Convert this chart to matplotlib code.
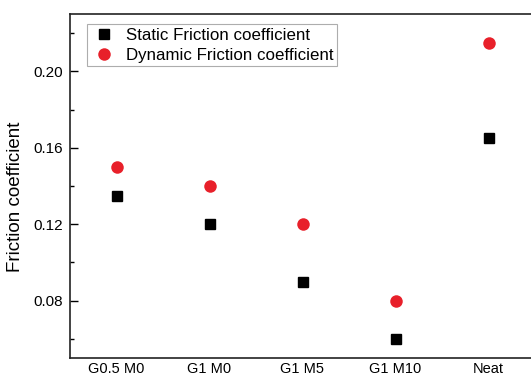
import matplotlib
matplotlib.use('Agg')
import matplotlib.pyplot as plt
from matplotlib.ticker import MultipleLocator

plt.rcParams['font.family'] = ['Liberation Sans', 'DejaVu Sans']

# datos
muestras = ['G0.5 M0', 'G1 M0', 'G1 M5', 'G1 M10', 'Neat']
friccion_estatica = [0.135, 0.12, 0.09, 0.06, 0.165]
friccion_dinamica = [0.15, 0.14, 0.12, 0.08, 0.215]

fig = plt.figure(figsize=(5.31, 3.78), dpi=100)
ax = fig.add_axes([70 / 531, 20 / 378, 465 / 531, 344 / 378])

x = list(range(1, len(muestras) + 1))
ax.plot(x, friccion_estatica, 's', color='black', markersize=7.5,
        label='Static Friction coefficient')
ax.plot(x, friccion_dinamica, 'o', color='#E8202A', markersize=9,
        markeredgewidth=0, label='Dynamic Friction coefficient')

ax.set_xlim(0.5, 5.5)
ax.set_ylim(0.05, 0.23)
ax.set_xticks(x)
ax.set_xticklabels(muestras)
ax.yaxis.set_minor_locator(MultipleLocator(0.02))
ax.set_yticks([0.08, 0.12, 0.16, 0.20])
ax.set_yticklabels(['0.08', '0.12', '0.16', '0.20'])

ax.tick_params(axis='y', which='major', direction='in', length=6, width=1,
               labelsize=11, pad=5)
ax.tick_params(axis='y', which='minor', direction='in', length=3, width=1)
ax.tick_params(axis='x', length=0, labelsize=10.5, pad=3)
for s in ax.spines.values():
    s.set_linewidth(1.2)
    s.set_color('#222222')

ax.set_ylabel('Friction coefficient', fontsize=13.5)
ax.yaxis.set_label_coords(-0.098, 0.47)

leg = ax.legend(loc='upper left', bbox_to_anchor=(0.036, 0.97), fontsize=12.2,
                frameon=True, fancybox=False, borderpad=0.2, handletextpad=0.5,
                labelspacing=0.3, handlelength=1.6, borderaxespad=0)
leg.get_frame().set_edgecolor('#999999')
leg.get_frame().set_linewidth(0.8)

fig.savefig('out.png', dpi=100, facecolor='white')
